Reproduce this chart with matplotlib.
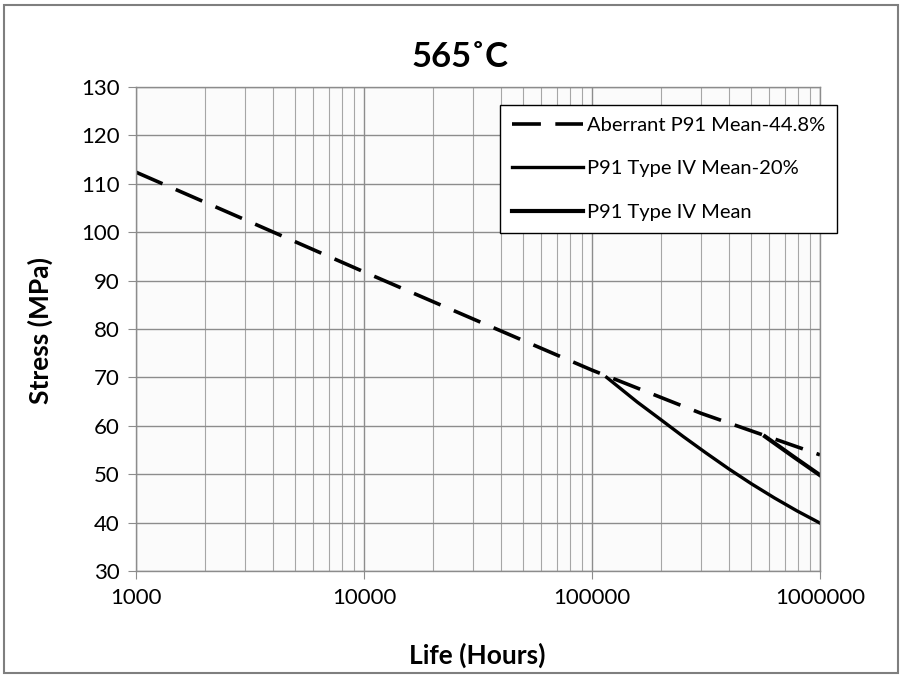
import matplotlib
matplotlib.use("Agg")
import matplotlib.pyplot as plt
from matplotlib.ticker import FixedLocator, LogLocator, NullFormatter, FuncFormatter
from matplotlib.patches import Rectangle

plt.rcParams['font.family'] = ['Lato', 'DejaVu Sans']

# Data
aberrant_life = [1000, 3000, 10000, 30000, 100000, 300000, 1000000]
aberrant_stress = [112.4, 102.6, 91.8, 82.1, 71.5, 62.6, 54.0]

mean20_life = [116000, 158000, 200000, 251000, 316000, 398000, 501000, 631000, 794000, 1000000]
mean20_stress = [70.0, 64.9, 61.3, 57.8, 54.4, 51.1, 48.0, 45.1, 42.4, 39.9]

mean_life = [574000, 766000, 1000000]
mean_stress = [57.8, 53.6, 49.8]

series_labels = ["Aberrant P91 Mean-44.8%", "P91 Type IV Mean-20%", "P91 Type IV Mean"]
title = "565˚C"
xlabel = "Life (Hours)"
ylabel = "Stress (MPa)"
x_ticks = [1000, 10000, 100000, 1000000]
y_ticks = list(range(30, 131, 10))

fig = plt.figure(figsize=(9.06, 6.8), dpi=100)
ax = fig.add_axes([136/906, 1-571/680, (820-136)/906, (571-87)/680])

ax.plot(aberrant_life, aberrant_stress, color='black', lw=2.6, dashes=(8, 4), label=series_labels[0])
ax.plot(mean20_life, mean20_stress, color='black', lw=2.4, label=series_labels[1])
ax.plot(mean_life, mean_stress, color='black', lw=3.0, label=series_labels[2])

ax.set_xscale('log')
ax.set_xlim(1000, 1000000)
ax.set_ylim(30, 130)
ax.xaxis.set_major_locator(FixedLocator(x_ticks))
ax.xaxis.set_major_formatter(FuncFormatter(lambda v, p: f"{int(round(v))}"))
ax.xaxis.set_minor_locator(LogLocator(base=10, subs=range(2, 10)))
ax.xaxis.set_minor_formatter(NullFormatter())
ax.set_yticks(y_ticks)

ax.set_facecolor('#fbfbfb')
ax.grid(True, which='major', color='#8c8c8c', lw=1.0)
ax.grid(True, which='minor', axis='x', color='#a6a6a6', lw=0.8)
ax.set_axisbelow(True)
for s in ax.spines.values():
    s.set_color('#8c8c8c')
    s.set_linewidth(1.0)
ax.tick_params(axis='both', which='major', direction='out', length=6, color='#8c8c8c',
               labelsize=16, pad=6)
ax.tick_params(axis='x', which='minor', length=0)

fig.text(460/906, 1-57/680, title, fontsize=25, fontweight='bold', ha='center', va='center')
fig.text(477/906, 1-655/680, xlabel, fontsize=19, fontweight='bold', ha='center', va='center')
fig.text(40/906, 1-330/680, ylabel, fontsize=19, fontweight='bold', ha='center', va='center',
         rotation=90)

leg = ax.legend(loc='upper left', bbox_to_anchor=((500-136)/684, (571-105)/484), fontsize=14.5,
                frameon=True, fancybox=False, edgecolor='black', framealpha=1.0,
                handlelength=3.5, labelspacing=1.3, borderpad=0.6, handletextpad=0.2,
                borderaxespad=0)
leg.get_frame().set_linewidth(1.0)

fig.patches.append(Rectangle((0.004, 0.01), 0.987, 0.982, transform=fig.transFigure,
                             fill=False, edgecolor='#7f7f7f', lw=1.5))

fig.savefig('out.png', dpi=100)
